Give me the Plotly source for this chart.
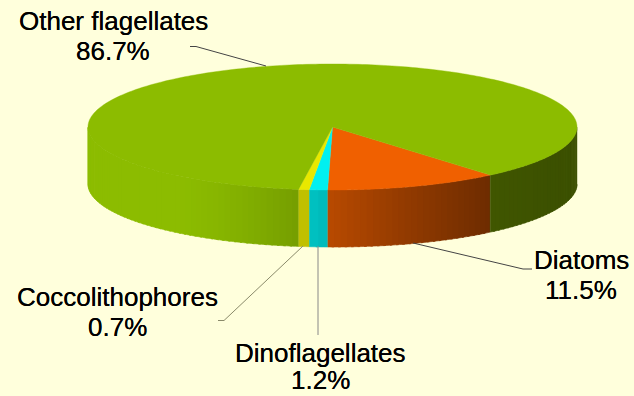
import numpy as np
import plotly.graph_objects as go

# Data
labels = ["Diatoms", "Dinoflagellates", "Coccolithophores", "Other flagellates"]
values = [11.5, 1.2, 0.7, 86.7]

# Styles
top_colors = ["#f06000", "#00f0f0", "#e8e800", "#8cbc00"]
BG = "#ffffdc"
CX, CY, RX, RY, DEPTH = 332.5, 127.0, 244.5, 63.0, 57.0
START_DEG = 139.8  # clockwise from 12 o'clock: where the first slice begins
shade_x = [88, 180, 215, 250, 298, 327, 400, 489, 530, 577]
shade_f = [1.0, 1.0, 0.97, 0.92, 0.84, 0.77, 0.62, 0.46, 0.44, 0.42]


def hex_rgb(h):
    return np.array([int(h[i:i + 2], 16) for i in (1, 3, 5)], float)


def px(a):
    return CX + RX * np.sin(a)


def py(a):
    return CY - RY * np.cos(a)


fig = go.Figure()
total = sum(values)
edges = np.radians(START_DEG + np.concatenate([[0], np.cumsum(values)]) / total * 360)

# Side wall: only the front half of the rim is seen
front_halves = [(np.pi / 2, 1.5 * np.pi), (2.5 * np.pi, 3.5 * np.pi)]
for i, col in enumerate(top_colors):
    base = hex_rgb(col)
    for fa, fb in front_halves:
        lo, hi = max(edges[i], fa), min(edges[i + 1], fb)
        if hi <= lo:
            continue
        n = max(1, int(np.degrees(hi - lo) / 1.5))
        steps = np.linspace(lo, hi, n + 1)
        for s0, s1 in zip(steps[:-1], steps[1:]):
            arc = np.linspace(s0, min(s1 + 0.01, hi), 4)
            xs = px(arc)
            ys = py(arc)
            poly_x = np.concatenate([xs, xs[::-1]])
            poly_y = np.concatenate([ys, ys[::-1] + DEPTH])
            f = np.interp(px((s0 + s1) / 2), shade_x, shade_f)
            r, g, b = np.round(base * f).astype(int)
            c = f"rgb({r},{g},{b})"
            fig.add_trace(go.Scatter(x=poly_x, y=poly_y, mode="lines", fill="toself",
                                     fillcolor=c, line=dict(width=0.6, color=c, simplify=False),
                                     hoverinfo="skip", showlegend=False))

# Top face
for i, col in enumerate(top_colors):
    n = max(3, int(np.degrees(edges[i + 1] - edges[i])))
    arc = np.linspace(edges[i], edges[i + 1], n)
    fig.add_trace(go.Scatter(x=np.r_[CX, px(arc), CX], y=np.r_[CY, py(arc), CY],
                             mode="lines", fill="toself", fillcolor=col,
                             line=dict(width=0.4, color=col, simplify=False),
                             name=labels[i], hoverinfo="name", showlegend=False))

# Leader lines
leaders = [
    ([190, 196, 266], [46.5, 46.5, 66], "#444444"),
    ([413, 523, 532], [243, 269, 269], "#444444"),
    ([318, 318], [246, 335], "#888888"),
    ([303, 224, 218], [246, 320.5, 320.5], "#8a8a6a"),
]
for lx, ly, lc in leaders:
    fig.add_trace(go.Scatter(x=lx, y=ly, mode="lines", line=dict(color=lc, width=1),
                             hoverinfo="skip", showlegend=False))

# Labels: (centre x, first line y, second line y)
positions = {"Other flagellates": (113, 21, 51), "Diatoms": (581, 260, 290),
             "Dinoflagellates": (320, 353, 380), "Coccolithophores": (117, 297, 327)}
FONT = dict(family="Liberation Sans", size=26, color="#000000", shadow="0 0 0.6px #000000")
for lab, val in zip(labels, values):
    x, y1, y2 = positions[lab]
    for txt, y in ((lab, y1), (f"{val}%", y2)):
        fig.add_annotation(x=x, y=y, text=txt, showarrow=False, font=FONT,
                           xanchor="center", yanchor="middle")

fig.update_layout(width=634, height=396, margin=dict(l=0, r=0, t=0, b=0),
                  paper_bgcolor=BG, plot_bgcolor=BG, showlegend=False,
                  xaxis=dict(range=[0, 634], visible=False, fixedrange=True),
                  yaxis=dict(range=[396, 0], visible=False, fixedrange=True))
fig.write_html("out.html", config={"displayModeBar": False},
               post_script=f"document.body.style.margin='0';document.body.style.overflow='hidden';"
                           f"document.body.style.background='{BG}';")
